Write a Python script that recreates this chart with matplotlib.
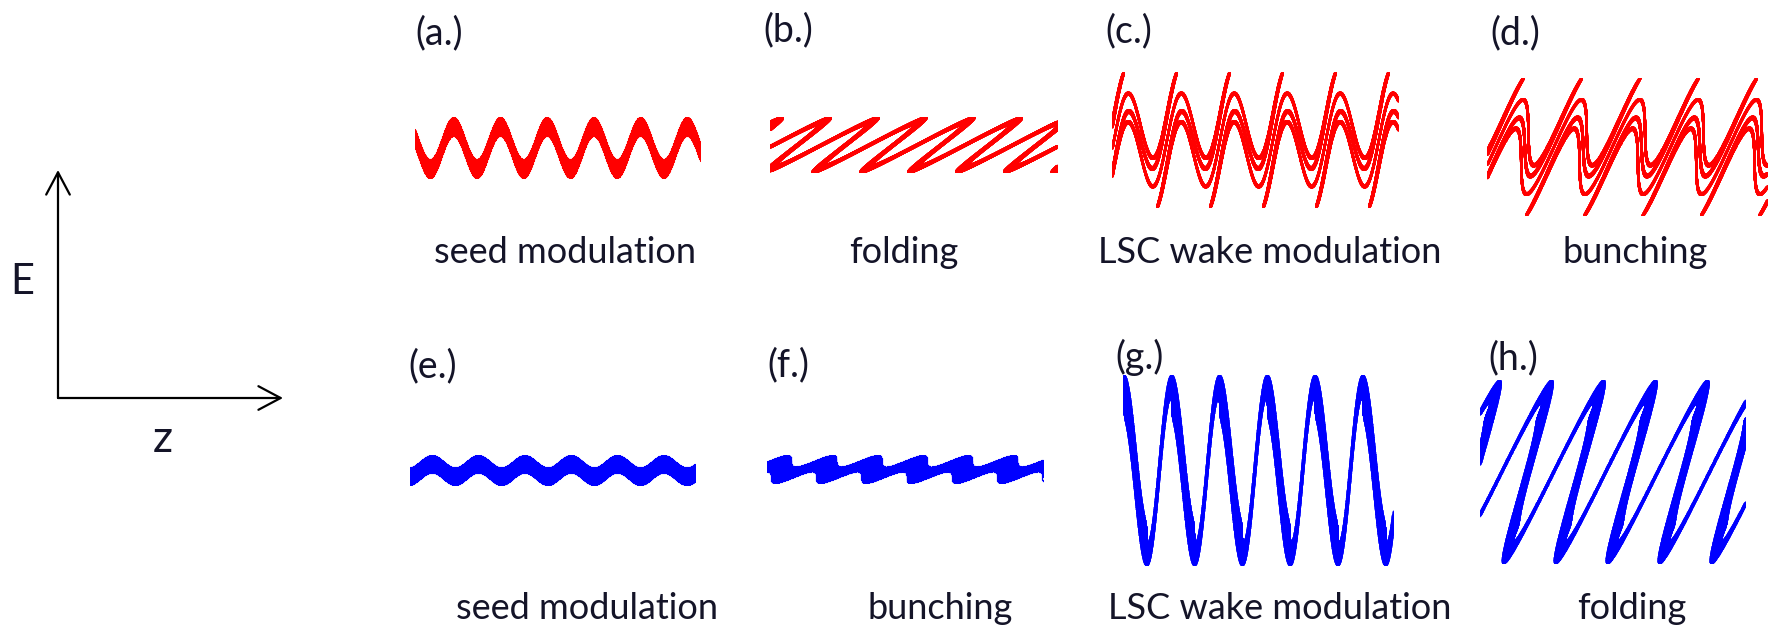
import numpy as np
import matplotlib.pyplot as plt
from matplotlib.patches import FancyArrowPatch

W, H = 1772, 627

# longitudinal phase space, z in seed periods, energy in units of the red seed amplitude
labels = ['(a.)', '(b.)', '(c.)', '(d.)', '(e.)', '(f.)', '(g.)', '(h.)']
captions = ['seed modulation', 'folding', 'LSC wake modulation', 'bunching',
            'seed modulation', 'bunching', 'LSC wake modulation', 'folding']
seed_amp = [1.0, 1.0, 1.0, 1.0, 0.35, 0.35, 0.35, 0.35]
energy_spread = [0.45, 0.15, 0.15, 0.15, 0.5, 0.5, 0.5, 0.5]
r56_first = [0.0, 0.8, 0.8, 0.8, 0.0, 0.45, 0.45, 0.45]
wake_amp = [0.0, 0.0, 1.4, 1.4, 0.0, 0.0, 2.5, 2.5]
wake_phase = [0.0] * 8
r56_second = [0.0, 0.0, 0.0, 0.12, 0.0, 0.0, 0.0, 0.23]
window_start = [0.43, 0.93, 0.97, 0.86, 0.78, 0.19, 0.25, 0.59]
window_width = [6.1, 6.0, 5.4, 4.8, 6.15, 6.1, 5.65, 5.1]

# panel boxes in pixels: left, top, right, bottom
boxes = [(415, 117, 700, 178), (770, 117, 1057, 172), (1112, 72, 1398, 207), (1487, 78, 1767, 215),
         (410, 455, 695, 485), (767, 455, 1043, 483), (1123, 375, 1393, 565), (1480, 380, 1745, 563)]
label_pos = [(415, 33), (763, 30), (1105, 31), (1490, 33),
             (408, 366), (767, 365), (1115, 357), (1488, 358)]
caption_pos = [(565, 263), (904, 263), (1270, 263), (1635, 263),
               (587, 619), (940, 619), (1280, 619), (1632, 619)]
beam_color = ['#ff0000'] * 4 + ['#0000ff'] * 4
dot_size = [0.6, 2.5, 2.5, 2.5, 0.6, 0.6, 1.5, 1.5]


def beam(i):
    z = np.linspace(-3, 10, 13000)
    de = np.linspace(-energy_spread[i], energy_spread[i], 31)
    z, de = np.meshgrid(z, de)
    e = seed_amp[i] * np.sin(2 * np.pi * z) + de
    z = z + r56_first[i] * e
    e = e + wake_amp[i] * np.sin(2 * np.pi * z + wake_phase[i])
    z = z + r56_second[i] * e
    return z.ravel(), e.ravel()


plt.rcParams['font.family'] = ['Lato', 'DejaVu Sans']
fig = plt.figure(figsize=(W / 100, H / 100), dpi=100)

base = fig.add_axes([0, 0, 1, 1])
base.set_xlim(0, W)
base.set_ylim(H, 0)
base.axis('off')

txt = '#141428'
for i in range(8):
    l, t, r, b = boxes[i]
    ax = fig.add_axes([l / W, 1 - b / H, (r - l) / W, (b - t) / H])
    z, e = beam(i)
    x0 = window_start[i]
    x1 = x0 + window_width[i]
    m = (z >= x0) & (z <= x1)
    ax.scatter(z[m], e[m], s=dot_size[i], color=beam_color[i], linewidths=0, alpha=0.6, rasterized=True)
    ax.set_xlim(x0, x1)
    ax.set_ylim(e[m].min(), e[m].max())
    ax.axis('off')

    base.text(*label_pos[i], labels[i], fontsize=27, color=txt, ha='left', va='center')
    base.text(*caption_pos[i], captions[i], fontsize=26, color=txt, ha='center', va='baseline')

# E-z axes sketch
for end in [(58, 170), (283, 398)]:
    base.add_patch(FancyArrowPatch((58, 398), end, arrowstyle='->,head_length=1.6,head_width=0.85',
                                   mutation_scale=10, lw=1.6, color='black', shrinkA=0, shrinkB=0))
base.text(22, 282, 'E', fontsize=30, color=txt, ha='center', va='center')
base.text(163, 440, 'z', fontsize=32, color=txt, ha='center', va='center')

plt.savefig('out.png', dpi=100)
plt.close()
